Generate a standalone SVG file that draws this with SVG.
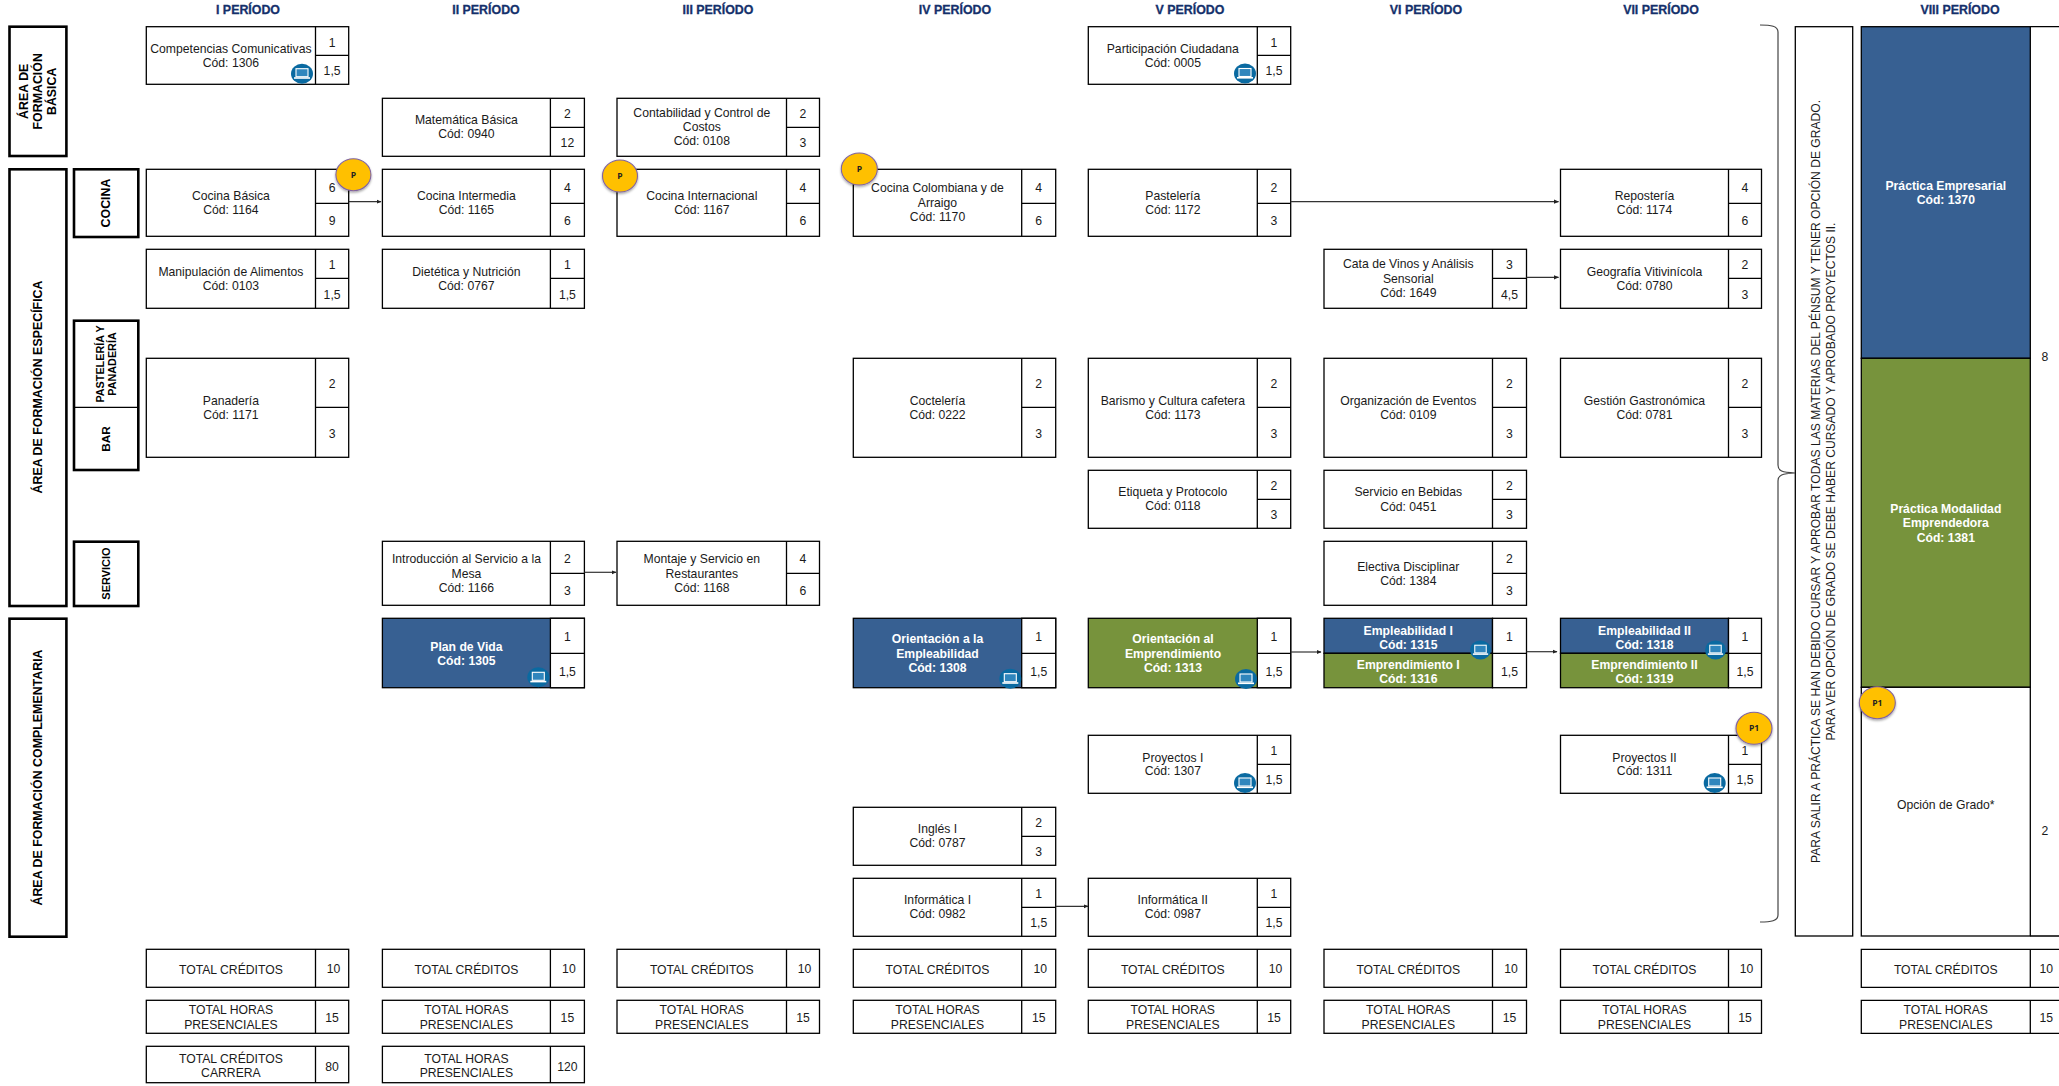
<svg xmlns="http://www.w3.org/2000/svg" width="2059" height="1086" viewBox="0 0 2059 1086">
<style>
text{font-family:"Liberation Sans",Arial,sans-serif;font-size:12.2px;fill:#1a1a1a;text-anchor:middle}
.b{fill:#fff;stroke:#000;stroke-width:1.3}
.bl{fill:#376092;stroke:#000;stroke-width:1.3}
.gr{fill:#77933c;stroke:#000;stroke-width:1.3}
.l{fill:none;stroke:#000;stroke-width:1.3}
.a{fill:#fff;stroke:#000;stroke-width:2.6}
.h{font-weight:bold;fill:#14306b;stroke:#14306b;stroke-width:.3;font-size:12.4px}
.w{font-weight:bold;fill:#fff}
.k{font-weight:bold;font-size:12.4px;fill:#000}
.c{fill:none;stroke:#333;stroke-width:1.2;marker-end:url(#ar)}
.p{fill:#ffc000;stroke:#8064a2;stroke-width:1.1;filter:url(#sh)}
.pt{font-family:"Open Sans","Liberation Sans",sans-serif;font-weight:bold;font-size:8.5px;fill:#222}
</style>
<defs>
<marker id="ar" markerUnits="userSpaceOnUse" markerWidth="5" markerHeight="5" refX="4.5" refY="2.5" orient="auto"><path d="M0 0.4L5 2.5L0 4.6z" fill="#222"/></marker>
<filter id="sh" x="-30%" y="-30%" width="160%" height="170%"><feDropShadow dx="0" dy="1.5" stdDeviation="1.2" flood-color="#000" flood-opacity="0.35"/></filter>
<symbol id="pc" viewBox="-11 -10 22 20" overflow="visible"><ellipse rx="11" ry="10" fill="#0a6aa1"/><rect x="-6" y="-5" width="12" height="8" fill="#2f86bd" stroke="#fff" stroke-width="1.1"/><path d="M-8 4.3H8" stroke="#fff" stroke-width="1.6"/></symbol>
</defs>
<rect width="2059" height="1086" fill="#fff"/>

<g id="headers">
<text class="h" x="248" y="13.5">I PERÍODO</text>
<text class="h" x="486" y="13.5">II PERÍODO</text>
<text class="h" x="718" y="13.5">III PERÍODO</text>
<text class="h" x="955" y="13.5">IV PERÍODO</text>
<text class="h" x="1190" y="13.5">V PERÍODO</text>
<text class="h" x="1426" y="13.5">VI PERÍODO</text>
<text class="h" x="1661" y="13.5">VII PERÍODO</text>
<text class="h" x="1960" y="13.5">VIII PERÍODO</text>
</g>

<g id="area-basica"><rect class="a" x="9.5" y="26.7" width="56.9" height="129.3"/>
<text class="k" transform="translate(37.5 91.3) rotate(-90)"><tspan x="0" y="-9.5">ÁREA DE</tspan><tspan x="0" y="4.5">FORMACIÓN</tspan><tspan x="0" y="18.5">BÁSICA</tspan></text></g>
<g id="area-especifica"><rect class="a" x="9.5" y="169.3" width="56.9" height="436.7"/>
<text class="k" transform="translate(41.8 387) rotate(-90)">ÁREA DE FORMACIÓN ESPECÍFICA</text></g>
<g id="area-complementaria"><rect class="a" x="9.5" y="618.7" width="56.9" height="318"/>
<text class="k" transform="translate(42.3 777.5) rotate(-90)">ÁREA DE FORMACIÓN COMPLEMENTARIA</text></g>
<g id="cat-cocina"><rect class="a" x="74" y="169.3" width="64.3" height="67.7"/>
<text class="k" transform="translate(110.3 203) rotate(-90)">COCINA</text></g>
<g id="cat-pasteleria-bar"><rect class="a" x="74" y="320.7" width="64.3" height="149.3"/>
<path class="l" d="M74 407.3H138.3"/>
<text class="k" style="font-size:10.8px" transform="translate(104 364) rotate(-90)"><tspan x="0" y="0">PASTELERÍA Y</tspan><tspan x="0" y="12">PANADERÍA</tspan></text>
<text class="k" style="font-size:11.8px" transform="translate(110.3 439) rotate(-90)">BAR</text></g>
<g id="cat-servicio"><rect class="a" x="74" y="541.7" width="64.3" height="64.3"/>
<text class="k" style="font-size:11px" transform="translate(110 573.5) rotate(-90)">SERVICIO</text></g>

<g id="n1306"><rect class="b" x="146.3" y="26.7" width="202.4" height="57.6"/><path class="l" d="M315.5 26.7V84.3M315.5 55.3H348.7"/><text x="230.9" y="53">Competencias Comunicativas</text><text x="230.9" y="67">Cód: 1306</text><text x="332.1" y="46.6">1</text><text x="332.1" y="75.4">1,5</text><use href="#pc" x="291" y="63.7" width="22" height="20"/></g>
<g id="n1164"><rect class="b" x="146.3" y="169.3" width="202.4" height="67"/><path class="l" d="M315.5 169.3V236.3M315.5 203.3H348.7"/><text x="230.9" y="200.3">Cocina Básica</text><text x="230.9" y="214.3">Cód: 1164</text><text x="332.1" y="191.9">6</text><text x="332.1" y="225.4">9</text></g>
<g id="n0103"><rect class="b" x="146.3" y="249.3" width="202.4" height="59"/><path class="l" d="M315.5 249.3V308.3M315.5 278.3H348.7"/><text x="230.9" y="276.3">Manipulación de Alimentos</text><text x="230.9" y="290.3">Cód: 0103</text><text x="332.1" y="269.4">1</text><text x="332.1" y="298.9">1,5</text></g>
<g id="n1171"><rect class="b" x="146.3" y="358.3" width="202.4" height="99"/><path class="l" d="M315.5 358.3V457.3M315.5 407.3H348.7"/><text x="230.9" y="405.3">Panadería</text><text x="230.9" y="419.3">Cód: 1171</text><text x="332.1" y="388.4">2</text><text x="332.1" y="437.9">3</text></g>

<g id="n0940"><rect class="b" x="382.4" y="98.3" width="202" height="58"/><path class="l" d="M550.4 98.3V156.3M550.4 127.3H584.4"/><text x="466.4" y="124.3">Matemática Básica</text><text x="466.4" y="138.3">Cód: 0940</text><text x="567.4" y="118.4">2</text><text x="567.4" y="147.4">12</text></g>
<g id="n1165"><rect class="b" x="382.4" y="169.3" width="202" height="67"/><path class="l" d="M550.4 169.3V236.3M550.4 203.3H584.4"/><text x="466.4" y="200.3">Cocina Intermedia</text><text x="466.4" y="214.3">Cód: 1165</text><text x="567.4" y="191.9">4</text><text x="567.4" y="225.4">6</text></g>
<g id="n0767"><rect class="b" x="382.4" y="249.3" width="202" height="59"/><path class="l" d="M550.4 249.3V308.3M550.4 278.3H584.4"/><text x="466.4" y="276.3">Dietética y Nutrición</text><text x="466.4" y="290.3">Cód: 0767</text><text x="567.4" y="269.4">1</text><text x="567.4" y="298.9">1,5</text></g>
<g id="n1166"><rect class="b" x="382.4" y="541.3" width="202" height="64"/><path class="l" d="M550.4 541.3V605.3M550.4 573.3H584.4"/><text x="466.4" y="563.4">Introducción al Servicio a la</text><text x="466.4" y="578.4">Mesa</text><text x="466.4" y="592">Cód: 1166</text><text x="567.4" y="562.9">2</text><text x="567.4" y="594.9">3</text></g>
<g id="n1305"><rect class="bl" x="382.4" y="618.3" width="202" height="69.4"/><rect class="b" x="550.4" y="618.3" width="34" height="69.4"/><path class="l" d="M550.4 653.3H584.4"/><text class="w" x="466.4" y="650.7">Plan de Vida</text><text class="w" x="466.4" y="664.7">Cód: 1305</text><text x="567.4" y="641.4">1</text><text x="567.4" y="676.1">1,5</text><use href="#pc" x="527.3" y="667.3" width="22" height="20"/></g>

<g id="n0108"><rect class="b" x="617" y="98.3" width="202.5" height="58"/><path class="l" d="M786.5 98.3V156.3M786.5 127.3H819.5"/><text x="701.8" y="117">Contabilidad y Control de</text><text x="701.8" y="131">Costos</text><text x="701.8" y="145">Cód: 0108</text><text x="803" y="118.4">2</text><text x="803" y="147.4">3</text></g>
<g id="n1167"><rect class="b" x="617" y="169.3" width="202.5" height="67"/><path class="l" d="M786.5 169.3V236.3M786.5 203.3H819.5"/><text x="701.8" y="200.3">Cocina Internacional</text><text x="701.8" y="214.3">Cód: 1167</text><text x="803" y="191.9">4</text><text x="803" y="225.4">6</text></g>
<g id="n1168"><rect class="b" x="617" y="541.3" width="202.5" height="64"/><path class="l" d="M786.5 541.3V605.3M786.5 573.3H819.5"/><text x="701.8" y="563.4">Montaje y Servicio en</text><text x="701.8" y="578.4">Restaurantes</text><text x="701.8" y="592">Cód: 1168</text><text x="803" y="562.9">4</text><text x="803" y="594.9">6</text></g>

<g id="n1170"><rect class="b" x="853.3" y="169.3" width="202.4" height="67"/><path class="l" d="M1021.7 169.3V236.3M1021.7 203.3H1055.7"/><text x="937.5" y="192">Cocina Colombiana y de</text><text x="937.5" y="207">Arraigo</text><text x="937.5" y="221">Cód: 1170</text><text x="1038.7" y="191.9">4</text><text x="1038.7" y="225.4">6</text></g>
<g id="n0222"><rect class="b" x="853.3" y="358.3" width="202.4" height="99"/><path class="l" d="M1021.7 358.3V457.3M1021.7 407.3H1055.7"/><text x="937.5" y="405.3">Coctelería</text><text x="937.5" y="419.3">Cód: 0222</text><text x="1038.7" y="388.4">2</text><text x="1038.7" y="437.9">3</text></g>
<g id="n1308"><rect class="bl" x="853.3" y="618.3" width="202.4" height="69.4"/><rect class="b" x="1021.7" y="618.3" width="34" height="69.4"/><path class="l" d="M1021.7 653.3H1055.7"/><text class="w" x="937.5" y="643.4">Orientación a la</text><text class="w" x="937.5" y="657.7">Empleabilidad</text><text class="w" x="937.5" y="672">Cód: 1308</text><text x="1038.7" y="641.4">1</text><text x="1038.7" y="676.1">1,5</text><use href="#pc" x="999.3" y="668.7" width="22" height="20"/></g>
<g id="n0787"><rect class="b" x="853.3" y="807.3" width="202.4" height="58"/><path class="l" d="M1021.7 807.3V865.3M1021.7 836.3H1055.7"/><text x="937.5" y="833">Inglés I</text><text x="937.5" y="847">Cód: 0787</text><text x="1038.7" y="827.4">2</text><text x="1038.7" y="856.4">3</text></g>
<g id="n0982"><rect class="b" x="853.3" y="878.3" width="202.4" height="58"/><path class="l" d="M1021.7 878.3V936.3M1021.7 907.3H1055.7"/><text x="937.5" y="904">Informática I</text><text x="937.5" y="918">Cód: 0982</text><text x="1038.7" y="898.4">1</text><text x="1038.7" y="927.4">1,5</text></g>

<g id="n0005"><rect class="b" x="1088.3" y="26.7" width="202.4" height="57.6"/><path class="l" d="M1257.3 26.7V84.3M1257.3 55.3H1290.7"/><text x="1172.8" y="53">Participación Ciudadana</text><text x="1172.8" y="67">Cód: 0005</text><text x="1274" y="46.6">1</text><text x="1274" y="75.4">1,5</text><use href="#pc" x="1234" y="63.5" width="22" height="20"/></g>
<g id="n1172"><rect class="b" x="1088.3" y="169.3" width="202.4" height="67"/><path class="l" d="M1257.3 169.3V236.3M1257.3 203.3H1290.7"/><text x="1172.8" y="200.3">Pastelería</text><text x="1172.8" y="214.3">Cód: 1172</text><text x="1274" y="191.9">2</text><text x="1274" y="225.4">3</text></g>
<g id="n1173"><rect class="b" x="1088.3" y="358.3" width="202.4" height="99"/><path class="l" d="M1257.3 358.3V457.3M1257.3 407.3H1290.7"/><text x="1172.8" y="405.3">Barismo y Cultura cafetera</text><text x="1172.8" y="419.3">Cód: 1173</text><text x="1274" y="388.4">2</text><text x="1274" y="437.9">3</text></g>
<g id="n0118"><rect class="b" x="1088.3" y="470.3" width="202.4" height="58"/><path class="l" d="M1257.3 470.3V528.3M1257.3 499.3H1290.7"/><text x="1172.8" y="496">Etiqueta y Protocolo</text><text x="1172.8" y="510">Cód: 0118</text><text x="1274" y="490.4">2</text><text x="1274" y="519.4">3</text></g>
<g id="n1313"><rect class="gr" x="1088.3" y="618.3" width="202.4" height="69.4"/><rect class="b" x="1257.3" y="618.3" width="33.4" height="69.4"/><path class="l" d="M1257.3 653.3H1290.7"/><text class="w" x="1173" y="643.4">Orientación al</text><text class="w" x="1173" y="657.7">Emprendimiento</text><text class="w" x="1173" y="672">Cód: 1313</text><text x="1274" y="641.4">1</text><text x="1274" y="676.1">1,5</text><use href="#pc" x="1235" y="669" width="22" height="20"/></g>
<g id="n1307"><rect class="b" x="1088.3" y="735.3" width="202.4" height="58"/><path class="l" d="M1257.3 735.3V793.3M1257.3 764.3H1290.7"/><text x="1172.8" y="761.5">Proyectos I</text><text x="1172.8" y="775.3">Cód: 1307</text><text x="1274" y="755.4">1</text><text x="1274" y="784.4">1,5</text><use href="#pc" x="1234" y="773" width="22" height="20"/></g>
<g id="n0987"><rect class="b" x="1088.3" y="878.3" width="202.4" height="58"/><path class="l" d="M1257.3 878.3V936.3M1257.3 907.3H1290.7"/><text x="1172.8" y="904">Informática II</text><text x="1172.8" y="918">Cód: 0987</text><text x="1274" y="898.4">1</text><text x="1274" y="927.4">1,5</text></g>

<g id="n1649"><rect class="b" x="1324" y="249.3" width="202.5" height="59"/><path class="l" d="M1492.5 249.3V308.3M1492.5 278.3H1526.5"/><text x="1408.3" y="268">Cata de Vinos y Análisis</text><text x="1408.3" y="283">Sensorial</text><text x="1408.3" y="297">Cód: 1649</text><text x="1509.5" y="269.4">3</text><text x="1509.5" y="298.9">4,5</text></g>
<g id="n0109"><rect class="b" x="1324" y="358.3" width="202.5" height="99"/><path class="l" d="M1492.5 358.3V457.3M1492.5 407.3H1526.5"/><text x="1408.3" y="405.3">Organización de Eventos</text><text x="1408.3" y="419.3">Cód: 0109</text><text x="1509.5" y="388.4">2</text><text x="1509.5" y="437.9">3</text></g>
<g id="n0451"><rect class="b" x="1324" y="470.3" width="202.5" height="58"/><path class="l" d="M1492.5 470.3V528.3M1492.5 499.3H1526.5"/><text x="1408.3" y="496">Servicio en Bebidas</text><text x="1408.3" y="510.5">Cód: 0451</text><text x="1509.5" y="490.4">2</text><text x="1509.5" y="519.4">3</text></g>
<g id="n1384"><rect class="b" x="1324" y="541.3" width="202.5" height="64"/><path class="l" d="M1492.5 541.3V605.3M1492.5 573.3H1526.5"/><text x="1408.3" y="570.8">Electiva Disciplinar</text><text x="1408.3" y="584.8">Cód: 1384</text><text x="1509.5" y="562.9">2</text><text x="1509.5" y="594.9">3</text></g>
<g id="n1315-1316"><rect class="bl" x="1324" y="618.3" width="168.5" height="35"/><rect class="gr" x="1324" y="653.3" width="168.5" height="34.4"/><rect class="b" x="1492.5" y="618.3" width="34" height="69.4"/><path class="l" d="M1492.5 653.3H1526.5"/><text class="w" x="1408.3" y="634.7">Empleabilidad I</text><text class="w" x="1408.3" y="648.7">Cód: 1315</text><text class="w" x="1408.3" y="669">Emprendimiento I</text><text class="w" x="1408.3" y="683">Cód: 1316</text><text x="1509.5" y="641.4">1</text><text x="1509.5" y="676.1">1,5</text><use href="#pc" x="1470" y="640" width="21" height="20"/></g>

<g id="n1174"><rect class="b" x="1560.5" y="169.3" width="201" height="67"/><path class="l" d="M1728.5 169.3V236.3M1728.5 203.3H1761.5"/><text x="1644.5" y="200.3">Repostería</text><text x="1644.5" y="214.3">Cód: 1174</text><text x="1745" y="191.9">4</text><text x="1745" y="225.4">6</text></g>
<g id="n0780"><rect class="b" x="1560.5" y="249.3" width="201" height="59"/><path class="l" d="M1728.5 249.3V308.3M1728.5 278.3H1761.5"/><text x="1644.5" y="276.3">Geografía Vitivinícola</text><text x="1644.5" y="290.3">Cód: 0780</text><text x="1745" y="269.4">2</text><text x="1745" y="298.9">3</text></g>
<g id="n0781"><rect class="b" x="1560.5" y="358.3" width="201" height="99"/><path class="l" d="M1728.5 358.3V457.3M1728.5 407.3H1761.5"/><text x="1644.5" y="405.3">Gestión Gastronómica</text><text x="1644.5" y="419.3">Cód: 0781</text><text x="1745" y="388.4">2</text><text x="1745" y="437.9">3</text></g>
<g id="n1318-1319"><rect class="bl" x="1560.5" y="618.3" width="168" height="35"/><rect class="gr" x="1560.5" y="653.3" width="168" height="34.4"/><rect class="b" x="1728.5" y="618.3" width="33" height="69.4"/><path class="l" d="M1728.5 653.3H1761.5"/><text class="w" x="1644.5" y="634.7">Empleabilidad II</text><text class="w" x="1644.5" y="648.7">Cód: 1318</text><text class="w" x="1644.5" y="669">Emprendimiento II</text><text class="w" x="1644.5" y="683">Cód: 1319</text><text x="1745" y="641.4">1</text><text x="1745" y="676.1">1,5</text><use href="#pc" x="1705" y="640" width="21" height="20"/></g>
<g id="n1311"><rect class="b" x="1560.5" y="735.3" width="201" height="58"/><path class="l" d="M1728.5 735.3V793.3M1728.5 764.3H1761.5"/><text x="1644.5" y="761.5">Proyectos II</text><text x="1644.5" y="775.3">Cód: 1311</text><text x="1745" y="755.4">1</text><text x="1745" y="784.4">1,5</text><use href="#pc" x="1703.7" y="773" width="22" height="20"/></g>

<g id="note"><rect class="b" x="1795.3" y="26.7" width="57.4" height="909.3"/>
<text style="font-size:12.1px" transform="translate(1823.5 481.5) rotate(-90)"><tspan x="0" y="-3.2">PARA SALIR A PRÁCTICA SE HAN DEBIDO CURSAR Y APROBAR TODAS LAS MATERIAS DEL PÉNSUM Y TENER OPCIÓN DE GRADO.</tspan><tspan x="0" y="11.6">PARA VER OPCIÓN DE GRADO SE DEBE HABER CURSADO Y APROBADO PROYECTOS II.</tspan></text></g>

<g id="n1370"><rect class="bl" x="1861.3" y="26.7" width="169" height="331.6"/><text class="w" x="1945.8" y="189.7">Práctica Empresarial</text><text class="w" x="1945.8" y="203.7">Cód: 1370</text></g>
<g id="n1381"><rect class="gr" x="1861.3" y="358.3" width="169" height="329"/><text class="w" x="1945.8" y="513">Práctica Modalidad</text><text class="w" x="1945.8" y="527.3">Emprendedora</text><text class="w" x="1945.8" y="541.5">Cód: 1381</text></g>
<g id="n-opcion"><rect class="b" x="1861.3" y="687.3" width="169" height="248.7"/><text x="1945.8" y="809">Opción de Grado*</text></g>
<g id="c8-creditos"><path class="l" d="M2030.3 26.7H2059M2030.3 936H2059"/><text x="2045" y="361">8</text><text x="2045" y="834.5">2</text></g>

<g id="totales">
<g id="t1"><path class="l" d="M315.5 949.3V987.3M315.5 1000.3V1033.3M315.5 1046.3V1082.7"/><rect class="l" x="146.3" y="949.3" width="202.4" height="38"/><rect class="l" x="146.3" y="1000.3" width="202.4" height="33"/><rect class="l" x="146.3" y="1046.3" width="202.4" height="36.4"/><text x="230.9" y="974.4">TOTAL CRÉDITOS</text><text x="333.6" y="973.4">10</text><text x="230.9" y="1014.4">TOTAL HORAS</text><text x="230.9" y="1028.7">PRESENCIALES</text><text x="332.1" y="1022">15</text><text x="230.9" y="1063">TOTAL CRÉDITOS</text><text x="230.9" y="1077">CARRERA</text><text x="332.1" y="1071">80</text></g>
<g id="t2"><path class="l" d="M550.4 949.3V987.3M550.4 1000.3V1033.3M550.4 1046.3V1082.7"/><rect class="l" x="382.4" y="949.3" width="202" height="38"/><rect class="l" x="382.4" y="1000.3" width="202" height="33"/><rect class="l" x="382.4" y="1046.3" width="202" height="36.4"/><text x="466.4" y="974.4">TOTAL CRÉDITOS</text><text x="568.9" y="973.4">10</text><text x="466.4" y="1014.4">TOTAL HORAS</text><text x="466.4" y="1028.7">PRESENCIALES</text><text x="567.4" y="1022">15</text><text x="466.4" y="1063">TOTAL HORAS</text><text x="466.4" y="1077">PRESENCIALES</text><text x="567.4" y="1071">120</text></g>
<g id="t3"><path class="l" d="M786.5 949.3V987.3M786.5 1000.3V1033.3"/><rect class="l" x="617" y="949.3" width="202.5" height="38"/><rect class="l" x="617" y="1000.3" width="202.5" height="33"/><text x="701.8" y="974.4">TOTAL CRÉDITOS</text><text x="804.5" y="973.4">10</text><text x="701.8" y="1014.4">TOTAL HORAS</text><text x="701.8" y="1028.7">PRESENCIALES</text><text x="803" y="1022">15</text></g>
<g id="t4"><path class="l" d="M1021.7 949.3V987.3M1021.7 1000.3V1033.3"/><rect class="l" x="853.3" y="949.3" width="202.4" height="38"/><rect class="l" x="853.3" y="1000.3" width="202.4" height="33"/><text x="937.5" y="974.4">TOTAL CRÉDITOS</text><text x="1040.2" y="973.4">10</text><text x="937.5" y="1014.4">TOTAL HORAS</text><text x="937.5" y="1028.7">PRESENCIALES</text><text x="1038.7" y="1022">15</text></g>
<g id="t5"><path class="l" d="M1257.3 949.3V987.3M1257.3 1000.3V1033.3"/><rect class="l" x="1088.3" y="949.3" width="202.4" height="38"/><rect class="l" x="1088.3" y="1000.3" width="202.4" height="33"/><text x="1172.8" y="974.4">TOTAL CRÉDITOS</text><text x="1275.5" y="973.4">10</text><text x="1172.8" y="1014.4">TOTAL HORAS</text><text x="1172.8" y="1028.7">PRESENCIALES</text><text x="1274" y="1022">15</text></g>
<g id="t6"><path class="l" d="M1492.5 949.3V987.3M1492.5 1000.3V1033.3"/><rect class="l" x="1324" y="949.3" width="202.5" height="38"/><rect class="l" x="1324" y="1000.3" width="202.5" height="33"/><text x="1408.3" y="974.4">TOTAL CRÉDITOS</text><text x="1511" y="973.4">10</text><text x="1408.3" y="1014.4">TOTAL HORAS</text><text x="1408.3" y="1028.7">PRESENCIALES</text><text x="1509.5" y="1022">15</text></g>
<g id="t7"><path class="l" d="M1728.5 949.3V987.3M1728.5 1000.3V1033.3"/><rect class="l" x="1560.5" y="949.3" width="201" height="38"/><rect class="l" x="1560.5" y="1000.3" width="201" height="33"/><text x="1644.5" y="974.4">TOTAL CRÉDITOS</text><text x="1746.5" y="973.4">10</text><text x="1644.5" y="1014.4">TOTAL HORAS</text><text x="1644.5" y="1028.7">PRESENCIALES</text><text x="1745" y="1022">15</text></g>
<g id="t8"><path class="l" d="M2030.3 949.3V987.3M2030.3 1000.3V1033.3M2059 949.3H1861.3V987.3H2059M2059 1000.3H1861.3V1033.3H2059"/><text x="1945.8" y="974.4">TOTAL CRÉDITOS</text><text x="2046.3" y="973.4">10</text><text x="1945.8" y="1014.4">TOTAL HORAS</text><text x="1945.8" y="1028.7">PRESENCIALES</text><text x="2046.3" y="1022">15</text></g>
</g>

<g id="connectors">
<path class="c" d="M348.7 201.7H381"/>
<path class="c" d="M584.4 572.3H616"/>
<path class="c" d="M1290.7 201.7H1558.5"/>
<path class="c" d="M1526.5 277.3H1558.5"/>
<path class="c" d="M1290.7 652H1321"/>
<path class="c" d="M1526.5 651.7H1557"/>
<path class="c" d="M1055.7 906.3H1088"/>
<path d="M1760 25C1771 25 1778 26 1778 32V465C1778 471 1782 472.5 1795 473C1782 473.5 1778 475 1778 481V915C1778 921 1771 922 1760 922" fill="none" stroke="#444" stroke-width="1.2"/>
</g>

<g id="badge-p1"><ellipse class="p" cx="353.4" cy="174.7" rx="17.5" ry="16"/><text class="pt" x="353.4" y="177.8">P</text></g>
<g id="badge-p2"><ellipse class="p" cx="620" cy="176" rx="17.5" ry="16"/><text class="pt" x="620" y="179.1">P</text></g>
<g id="badge-p3"><ellipse class="p" cx="859.3" cy="169" rx="18" ry="16"/><text class="pt" x="859.3" y="172.1">P</text></g>
<g id="badge-p4"><ellipse class="p" cx="1754" cy="728.3" rx="18" ry="16"/><text class="pt" x="1754" y="731.4">P1</text></g>
<g id="badge-p5"><ellipse class="p" cx="1877.3" cy="702.7" rx="18" ry="16"/><text class="pt" x="1877.3" y="705.8">P1</text></g>
</svg>
